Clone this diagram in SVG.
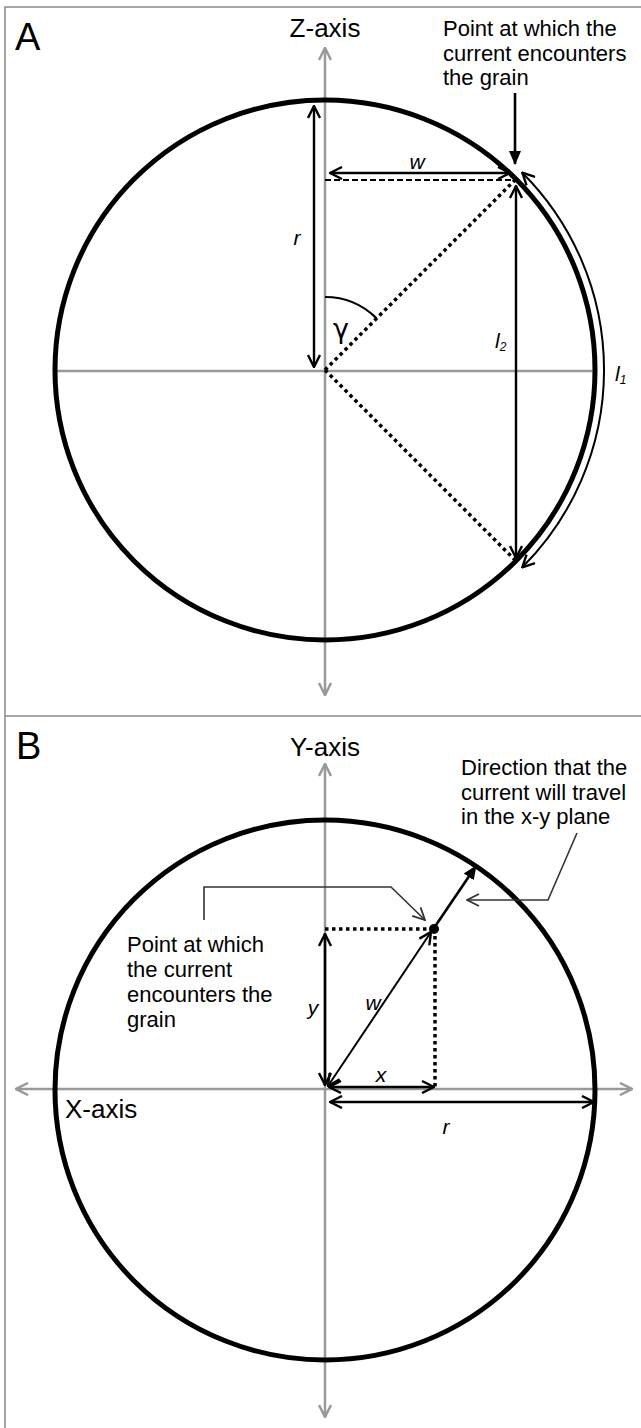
<svg xmlns="http://www.w3.org/2000/svg" width="641" height="1428" viewBox="0 0 641 1428">
<style>
.frame{fill:none;stroke:#888;stroke-width:1.5}
.circ{fill:none;stroke:#000;stroke-width:5}
.axis{fill:none;stroke:#999;stroke-width:2.5}
.dbl{fill:none;stroke:#000;stroke-width:2.4;marker-start:url(#chevB);marker-end:url(#chevB)}
.dot{fill:none;stroke:#000;stroke-width:3.5;stroke-dasharray:3.5 3.5}
.dash{fill:none;stroke:#000;stroke-width:2;stroke-dasharray:6 3}
.call{fill:none;stroke:#333;stroke-width:1.6;marker-end:url(#chevC)}
.ptr{fill:none;stroke:#000;stroke-width:2.6;marker-end:url(#tri)}
text{font-family:"Liberation Sans",Arial,sans-serif;fill:#000}
.lab{font-size:22px}
.ax{font-size:26px}
.pan{font-size:38px}
.it{font-style:italic;font-size:21px}
</style>
<defs>
<marker id="chevB" markerUnits="userSpaceOnUse" viewBox="0 0 14 14" refX="13" refY="7" markerWidth="14" markerHeight="14" orient="auto-start-reverse"><path d="M1,1 L13,7 L1,13" fill="none" stroke="#000" stroke-width="2.4"/></marker>
<marker id="chevG" markerUnits="userSpaceOnUse" viewBox="0 0 14 14" refX="13" refY="7" markerWidth="14" markerHeight="14" orient="auto-start-reverse"><path d="M1,1 L13,7 L1,13" fill="none" stroke="#999" stroke-width="2.5"/></marker>
<marker id="chevC" markerUnits="userSpaceOnUse" viewBox="0 0 14 14" refX="13" refY="7" markerWidth="14" markerHeight="14" orient="auto"><path d="M1,1 L13,7 L1,13" fill="none" stroke="#333" stroke-width="1.8"/></marker>
<marker id="tri" markerUnits="userSpaceOnUse" viewBox="0 0 14 14" refX="13" refY="7" markerWidth="14" markerHeight="14" orient="auto"><path d="M0,1 L14,7 L0,13 Z" fill="#000"/></marker>
</defs>

<g id="frame">
<rect class="frame" x="5" y="7" width="660" height="1440"/>
<line class="frame" x1="5" y1="716" x2="641" y2="716"/>
</g>

<g id="panelA">
<text class="pan" x="15" y="50">A</text>
<g id="axesA">
<line class="axis" x1="57" y1="371" x2="595" y2="371"/>
<line class="axis" x1="325" y1="48" x2="325" y2="695" style="marker-start:url(#chevG);marker-end:url(#chevG)"/>
<text class="ax" x="325" y="37" text-anchor="middle">Z-axis</text>
</g>
<g id="circleA"><circle class="circ" cx="325" cy="370" r="270"/></g>
<g id="connectorsA">
<line class="dash" x1="325" y1="180" x2="516" y2="180"/>
<line class="dot" x1="325" y1="370" x2="516" y2="179"/>
<line class="dot" x1="325" y1="370" x2="516" y2="561"/>
<line class="dbl" x1="314" y1="106" x2="314" y2="367"/>
<line class="dbl" x1="330" y1="173" x2="510" y2="173"/>
<line class="dbl" x1="516" y1="186" x2="516" y2="558"/>
<path d="M522.3,172.7 A279,279 0 0 1 522.3,567.3" fill="none" stroke="#000" stroke-width="2" style="marker-start:url(#chevB);marker-end:url(#chevB)"/>
<path d="M325,297 A73,73 0 0 1 376.6,318.4" fill="none" stroke="#000" stroke-width="2.2"/>
<line class="ptr" x1="515" y1="93" x2="515" y2="164"/>
</g>
<g id="labelsA">
<text class="it" x="417" y="169" text-anchor="middle">w</text>
<text class="it" x="297" y="245" text-anchor="middle">r</text>
<text x="341" y="338" text-anchor="middle" style="font-family:'DejaVu Sans',sans-serif;font-size:27px">γ</text>
<text class="it" x="495" y="348">l<tspan style="font-size:12px" dy="3">2</tspan></text>
<text class="it" x="615" y="381">l<tspan style="font-size:12px" dy="3">1</tspan></text>
<g id="noteA">
<text class="lab" x="443" y="36">Point at which the</text>
<text class="lab" x="443" y="61">current encounters</text>
<text class="lab" x="443" y="85">the grain</text>
</g>
</g>
</g>

<g id="panelB">
<text class="pan" x="16" y="759">B</text>
<g id="axesB">
<line class="axis" x1="16" y1="1089" x2="632" y2="1089" style="marker-start:url(#chevG);marker-end:url(#chevG)"/>
<line class="axis" x1="325" y1="764" x2="325" y2="1417" style="marker-start:url(#chevG);marker-end:url(#chevG)"/>
<text class="ax" x="325" y="756" text-anchor="middle">Y-axis</text>
<text class="ax" x="65" y="1118">X-axis</text>
</g>
<g id="circleB"><circle class="circ" cx="325" cy="1090" r="270"/></g>
<g id="connectorsB">
<line class="dot" x1="325" y1="929" x2="433" y2="929"/>
<line class="dot" x1="435" y1="929" x2="435" y2="1089"/>
<line class="dbl" x1="325" y1="934" x2="325" y2="1085" style="stroke-width:2.6"/>
<line class="dbl" x1="329" y1="1087" x2="434" y2="1087"/>
<line class="dbl" x1="330" y1="1102" x2="594" y2="1102"/>
<line class="dbl" x1="328" y1="1086" x2="431" y2="932" style="stroke-width:2"/>
<line class="ptr" x1="434" y1="928" x2="476" y2="866"/>
<circle cx="434" cy="929" r="5" fill="#000"/>
<polyline class="call" points="204,920 204,887 391,887 425,920"/>
<polyline class="call" points="577,833 548,900 467,900"/>
</g>
<g id="labelsB">
<text class="it" x="381" y="1082" text-anchor="middle">x</text>
<text class="it" x="446" y="1134" text-anchor="middle">r</text>
<text class="it" x="313" y="1015" text-anchor="middle">y</text>
<text class="it" x="373" y="1010" text-anchor="middle">w</text>
<g id="noteB1">
<text class="lab" x="127" y="952">Point at which</text>
<text class="lab" x="127" y="977">the current</text>
<text class="lab" x="127" y="1002">encounters the</text>
<text class="lab" x="127" y="1027">grain</text>
</g>
<g id="noteB2">
<text class="lab" x="461" y="775">Direction that the</text>
<text class="lab" x="461" y="800">current will travel</text>
<text class="lab" x="461" y="824">in the x-y plane</text>
</g>
</g>
</g>
</svg>
